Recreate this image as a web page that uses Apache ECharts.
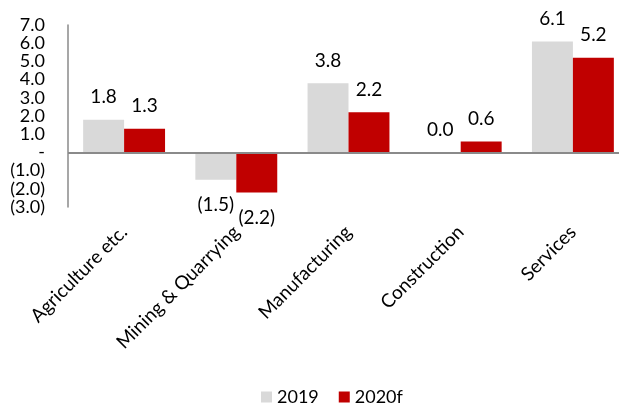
<!DOCTYPE html>
<html>
<head>
<meta charset="utf-8">
<script src="https://cdn.jsdelivr.net/npm/echarts@6/dist/echarts.min.js"></script>
<style>
  html, body { margin: 0; padding: 0; background: #fff; overflow: hidden; }
  #chart { width: 629px; height: 403px; }
</style>
</head>
<body>
<div id="chart"></div>
<script>
// Sector growth rates, % — 2019 actual vs 2020 forecast
const categories = ['Agriculture etc.', 'Mining & Quarrying', 'Manufacturing', 'Construction', 'Services'];
const growth2019 = [1.8, -1.5, 3.8, 0.0, 6.1];
const growth2020f = [1.3, -2.2, 2.2, 0.6, 5.2];
const seriesNames = ['2019', '2020f'];

const FONT = 'Lato, "Open Sans", sans-serif';

// accounting-style number: negatives in brackets
function fmt(v) {
  return v < 0 ? '(' + Math.abs(v).toFixed(1) + ')' : v.toFixed(1);
}

// negative bars carry their label underneath
function toItems(values) {
  return values.map(v => ({
    value: v,
    label: v < 0 ? { position: 'bottom', distance: 16 } : { position: 'top' }
  }));
}

const chart = echarts.init(document.getElementById('chart'), null, { renderer: 'canvas' });

chart.setOption({
  animation: false,
  backgroundColor: '#ffffff',
  textStyle: { fontFamily: FONT },
  grid: { left: 68, top: 25, right: 0, bottom: 196, containLabel: false },
  legend: {
    bottom: -8,
    left: 256,
    itemWidth: 11,
    itemHeight: 11,
    itemGap: 20,
    icon: 'rect',
    textStyle: { fontFamily: FONT, fontSize: 18, color: '#000' },
    data: seriesNames
  },
  xAxis: {
    type: 'category',
    data: categories,
    axisLine: { show: false, onZero: false },
    axisTick: { show: false },
    axisLabel: {
      rotate: 45,
      margin: 22,
      interval: 0,
      fontFamily: FONT,
      fontSize: 19,
      color: '#000'
    }
  },
  yAxis: {
    type: 'value',
    min: -3,
    max: 7,
    interval: 1,
    splitLine: { show: false },
    axisTick: { show: false },
    axisLine: { show: true, lineStyle: { color: '#8a8a8a', width: 1.5 } },
    axisLabel: {
      margin: 23,
      lineHeight: 18,
      fontFamily: FONT,
      fontSize: 18,
      color: '#000',
      formatter: v => (v === 0 ? '-' : fmt(v))
    }
  },
  series: [
    {
      name: seriesNames[0],
      type: 'bar',
      data: toItems(growth2019),
      barGap: '0%',
      barCategoryGap: '27%',
      itemStyle: { color: '#d9d9d9' },
      label: {
        show: true,
        distance: 13,
        fontFamily: FONT,
        fontSize: 19,
        color: '#000',
        formatter: p => fmt(p.value)
      },
      markLine: {
        silent: true,
        symbol: 'none',
        label: { show: false },
        lineStyle: { color: '#8a8a8a', width: 2, type: 'solid' },
        data: [{ yAxis: 0 }]
      }
    },
    {
      name: seriesNames[1],
      type: 'bar',
      data: toItems(growth2020f),
      barGap: '0%',
      barCategoryGap: '27%',
      itemStyle: { color: '#c00000' },
      label: {
        show: true,
        distance: 13,
        fontFamily: FONT,
        fontSize: 19,
        color: '#000',
        formatter: p => fmt(p.value)
      }
    }
  ]
});
</script>
</body>
</html>
